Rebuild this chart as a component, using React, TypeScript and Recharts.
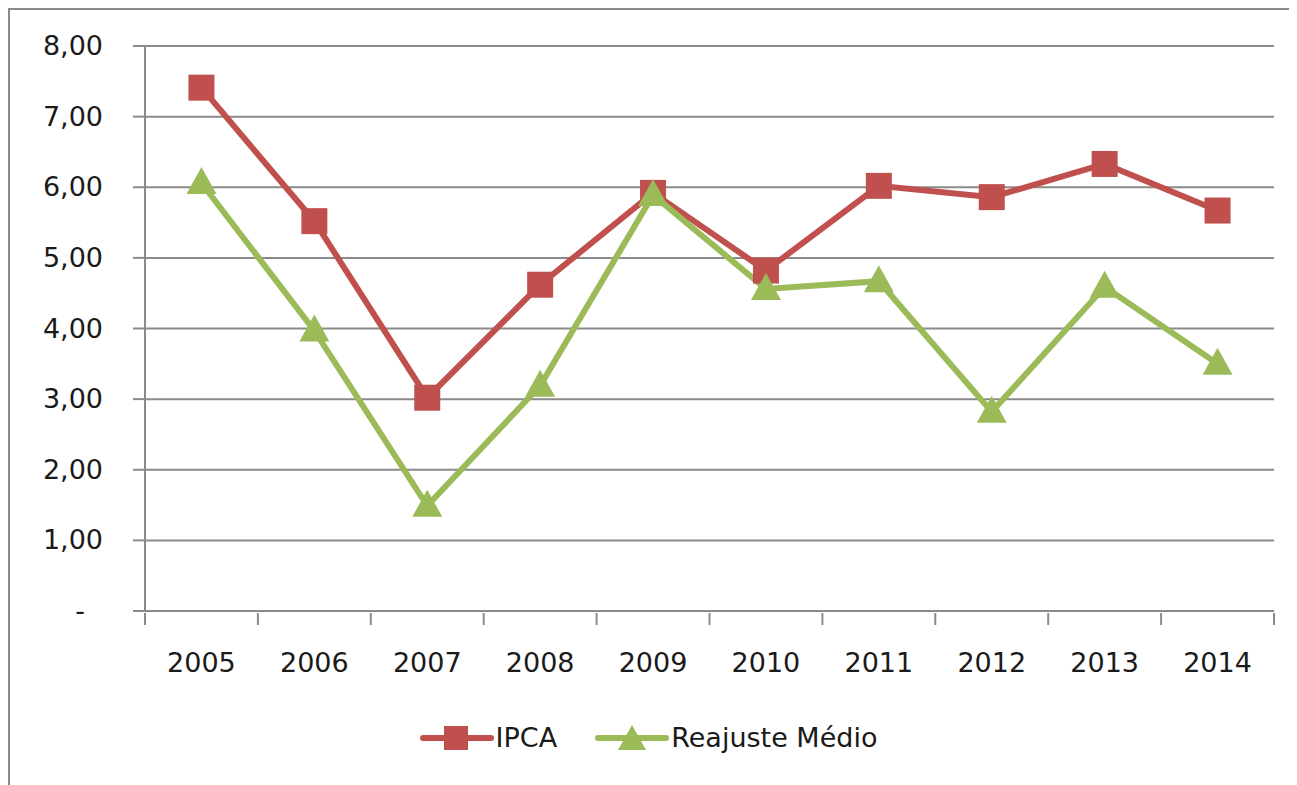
import { CartesianGrid, Legend, Line, LineChart, XAxis, YAxis } from 'recharts'

const years = ['2005', '2006', '2007', '2008', '2009', '2010', '2011', '2012', '2013', '2014']
const ipca = [7.41, 5.52, 3.02, 4.62, 5.92, 4.82, 6.02, 5.86, 6.33, 5.67]
const reajusteMedio = [6.06, 3.97, 1.49, 3.19, 5.89, 4.56, 4.67, 2.82, 4.59, 3.5]
const yTicks = [0, 1, 2, 3, 4, 5, 6, 7, 8]

const RED = '#C0504D'
const GREEN = '#9BBB59'
const GRID = '#8a8a8a'
const TEXT = '#1a1a1a'
const FONT = '"DejaVu Sans", Verdana, sans-serif'

const CHART_W = 1287
const CHART_H = 775
const MARGIN = { top: 36, right: 23, left: 0, bottom: 0 }
const Y_AXIS_W = 135
const BAND = (CHART_W - Y_AXIS_W - MARGIN.right) / years.length

const data = years.map((year, i) => ({ year, ipca: ipca[i], reajuste: reajusteMedio[i] }))

function SquareDot(props: any) {
  const { cx, cy, index } = props
  if (cx == null || cy == null) return <g key={`sq-${index}`} />
  return <rect key={`sq-${index}`} x={cx - 13} y={cy - 13} width={26} height={26} fill={RED} />
}

function TriangleDot(props: any) {
  const { cx, cy, index } = props
  if (cx == null || cy == null) return <g key={`tr-${index}`} />
  return (
    <polygon
      key={`tr-${index}`}
      points={`${cx},${cy - 16} ${cx - 15},${cy + 11} ${cx + 15},${cy + 11}`}
      fill={GREEN}
    />
  )
}

function YTick(props: any) {
  const { x, y, payload } = props
  const zero = payload.value === 0
  return (
    <text
      x={zero ? x - 18 : x}
      y={y}
      dy={9}
      textAnchor="end"
      fill={TEXT}
      fontSize={27}
      fontFamily={FONT}
    >
      {zero ? '-' : payload.value.toFixed(2).replace('.', ',')}
    </text>
  )
}

// category labels sit in the middle of each band, tick marks sit on the band edges
function XTick(props: any) {
  const { x, y, payload, index } = props
  const half = BAND / 2
  const top = y
  return (
    <g>
      <line x1={x - half} x2={x - half} y1={top} y2={top + 12} stroke={GRID} strokeWidth={2} />
      {index === years.length - 1 && (
        <line x1={x + half} x2={x + half} y1={top} y2={top + 12} stroke={GRID} strokeWidth={2} />
      )}
      <text x={x} y={top + 49} dy={10} textAnchor="middle" fill={TEXT} fontSize={27} fontFamily={FONT}>
        {payload.value}
      </text>
    </g>
  )
}

function LegendContent() {
  const item = (color: string, label: string, marker: 'square' | 'triangle') => (
    <div style={{ display: 'flex', alignItems: 'center' }}>
      <svg width={74} height={30}>
        <line x1={3} x2={71} y1={15} y2={15} stroke={color} strokeWidth={6} strokeLinecap="round" />
        {marker === 'square' ? (
          <rect x={24} y={3} width={24} height={24} fill={color} />
        ) : (
          <polygon points="37,2 23,27 51,27" fill={color} />
        )}
      </svg>
      <span style={{ fontSize: 27, color: TEXT, fontFamily: FONT, marginLeft: 2 }}>{label}</span>
    </div>
  )
  return (
    <div style={{ display: 'flex', justifyContent: 'center', gap: 38, paddingRight: 10 }}>
      {item(RED, 'IPCA', 'square')}
      {item(GREEN, 'Reajuste Médio', 'triangle')}
    </div>
  )
}

export default function App() {
  return (
    <div
      style={{
        width: 1289,
        height: 777,
        boxSizing: 'border-box',
        borderLeft: `2px solid ${GRID}`,
        borderTop: `2px solid ${GRID}`,
        background: '#fff',
      }}
    >
      <LineChart width={CHART_W} height={CHART_H} data={data} margin={MARGIN}>
        <CartesianGrid vertical={false} stroke={GRID} strokeWidth={2} />
        <XAxis
          dataKey="year"
          height={114}
          padding={{ left: BAND / 2, right: BAND / 2 }}
          axisLine={{ stroke: GRID, strokeWidth: 2 }}
          tickLine={false}
          tickSize={0}
          tick={<XTick />}
          interval={0}
        />
        <YAxis
          width={Y_AXIS_W}
          domain={[0, 8]}
          ticks={yTicks}
          interval={0}
          axisLine={{ stroke: GRID, strokeWidth: 2 }}
          tickLine={{ stroke: GRID, strokeWidth: 2 }}
          tickSize={12}
          tickMargin={30}
          tick={<YTick />}
        />
        <Legend
          verticalAlign="bottom"
          height={60}
          content={<LegendContent />}
          wrapperStyle={{ top: 712, left: 0, width: CHART_W }}
        />
        <Line
          dataKey="ipca"
          name="IPCA"
          stroke={RED}
          strokeWidth={6}
          dot={SquareDot}
          activeDot={false}
          isAnimationActive={false}
        />
        <Line
          dataKey="reajuste"
          name="Reajuste Médio"
          stroke={GREEN}
          strokeWidth={6}
          dot={TriangleDot}
          activeDot={false}
          isAnimationActive={false}
        />
      </LineChart>
    </div>
  )
}
